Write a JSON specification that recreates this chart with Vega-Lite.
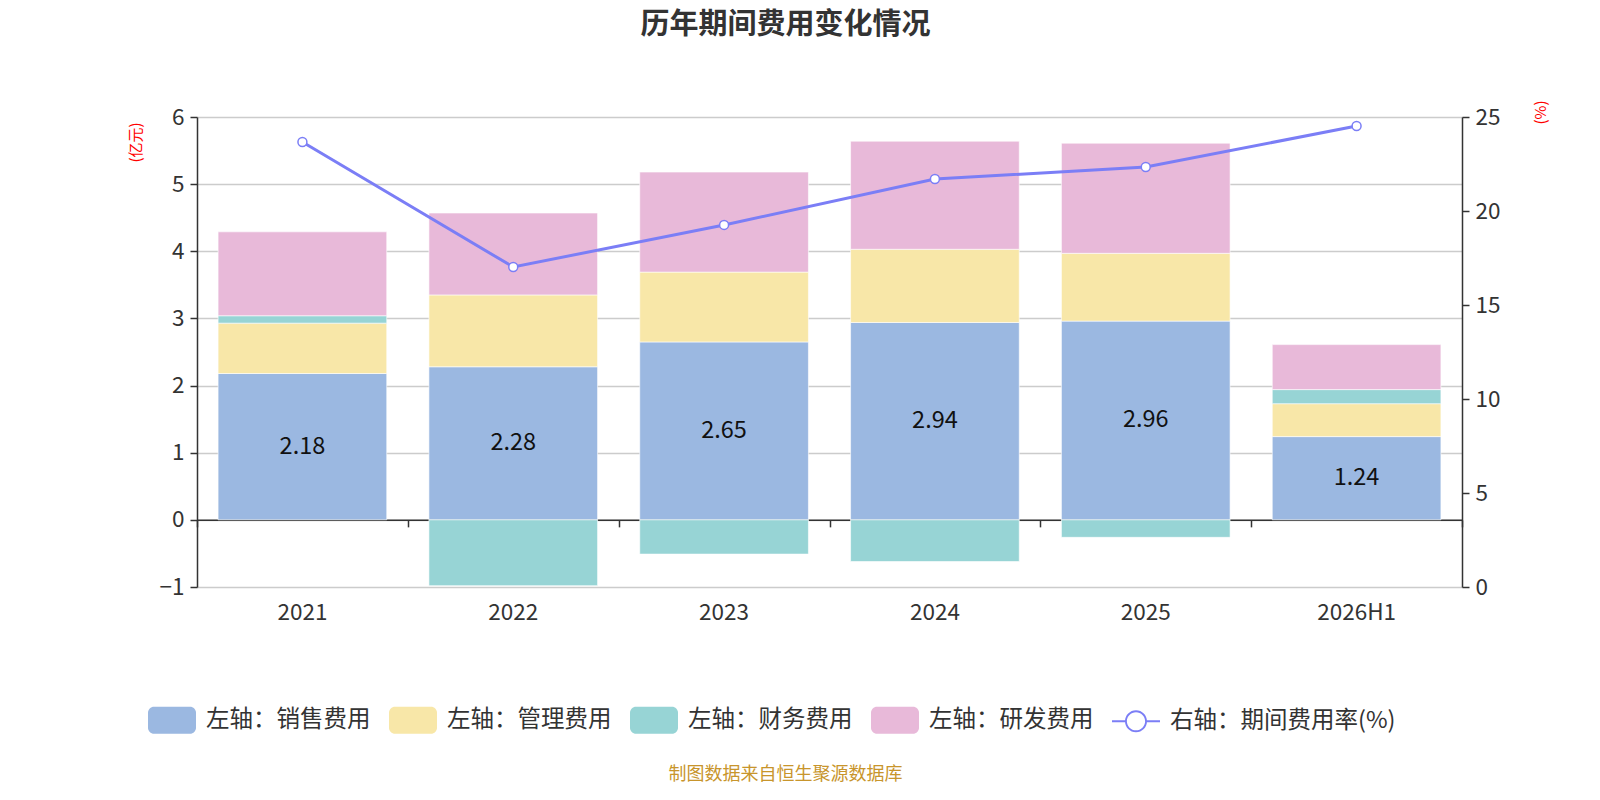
{
  "$schema": "https://vega.github.io/schema/vega-lite/v6.json",
  "width": 1265,
  "height": 470,
  "autosize": {"type": "none"},
  "padding": {"left": 197, "top": 117, "right": 138, "bottom": 213},
  "background": "white",
  "title": {
    "text": "历年期间费用变化情况",
    "fontSize": 29,
    "fontWeight": "bold",
    "color": "#333333",
    "anchor": "middle",
    "dx": -44,
    "offset": 60
  },
  "datasets": {
    "costs": [
      {"year": "2021", "type": "左轴：销售费用", "v": 2.18, "o": 1},
      {"year": "2021", "type": "左轴：管理费用", "v": 0.75, "o": 2},
      {"year": "2021", "type": "左轴：财务费用", "v": 0.11, "o": 3},
      {"year": "2021", "type": "左轴：研发费用", "v": 1.25, "o": 4},
      {"year": "2022", "type": "左轴：销售费用", "v": 2.28, "o": 1},
      {"year": "2022", "type": "左轴：管理费用", "v": 1.07, "o": 2},
      {"year": "2022", "type": "左轴：财务费用", "v": -0.98, "o": 3},
      {"year": "2022", "type": "左轴：研发费用", "v": 1.22, "o": 4},
      {"year": "2023", "type": "左轴：销售费用", "v": 2.65, "o": 1},
      {"year": "2023", "type": "左轴：管理费用", "v": 1.04, "o": 2},
      {"year": "2023", "type": "左轴：财务费用", "v": -0.51, "o": 3},
      {"year": "2023", "type": "左轴：研发费用", "v": 1.49, "o": 4},
      {"year": "2024", "type": "左轴：销售费用", "v": 2.94, "o": 1},
      {"year": "2024", "type": "左轴：管理费用", "v": 1.09, "o": 2},
      {"year": "2024", "type": "左轴：财务费用", "v": -0.62, "o": 3},
      {"year": "2024", "type": "左轴：研发费用", "v": 1.61, "o": 4},
      {"year": "2025", "type": "左轴：销售费用", "v": 2.96, "o": 1},
      {"year": "2025", "type": "左轴：管理费用", "v": 1.01, "o": 2},
      {"year": "2025", "type": "左轴：财务费用", "v": -0.26, "o": 3},
      {"year": "2025", "type": "左轴：研发费用", "v": 1.64, "o": 4},
      {"year": "2026H1", "type": "左轴：销售费用", "v": 1.24, "o": 1},
      {"year": "2026H1", "type": "左轴：管理费用", "v": 0.49, "o": 2},
      {"year": "2026H1", "type": "左轴：财务费用", "v": 0.21, "o": 3},
      {"year": "2026H1", "type": "左轴：研发费用", "v": 0.67, "o": 4}
    ],
    "rate": [
      {"year": "2021", "rate": 23.67},
      {"year": "2022", "rate": 17.02},
      {"year": "2023", "rate": 19.26},
      {"year": "2024", "rate": 21.7},
      {"year": "2025", "rate": 22.34},
      {"year": "2026H1", "rate": 24.52}
    ]
  },
  "encoding": {
    "x": {
      "field": "year",
      "type": "nominal",
      "sort": null,
      "scale": {"paddingInner": 0, "paddingOuter": 0}
    }
  },
  "layer": [
    {
      "data": {"name": "costs"},
      "encoding": {
        "x": {
          "field": "year",
          "type": "nominal",
          "sort": null,
          "axis": {
            "orient": "bottom",
            "domain": false,
            "ticks": false,
            "grid": false,
            "labelAngle": 0,
            "labelFontSize": 22.5,
            "labelColor": "#333333",
            "labelPadding": 14,
            "title": "制图数据来自恒生聚源数据库",
            "titleFontSize": 18,
            "titleFontWeight": "normal",
            "titleColor": "#c8952c",
            "titleX": 588,
            "titleY": 187,
            "titleBaseline": "middle"
          }
        }
      },
      "layer": [
        {
          "mark": {"type": "bar", "width": {"band": 0.8}, "stroke": "white", "strokeWidth": 0.6},
          "encoding": {
            "y": {
              "field": "v",
              "type": "quantitative",
              "stack": "zero",
              "scale": {"domain": [-1, 6], "nice": false, "zero": false},
              "axis": {
                "orient": "left",
                "values": [-1, 0, 1, 2, 3, 4, 5, 6],
                "format": "d",
                "labelFontSize": 22.5,
                "labelColor": "#333333",
                "labelPadding": 6,
                "tickSize": 7,
                "tickColor": "#333333",
                "tickWidth": 1.5,
                "domainColor": "#333333",
                "domainWidth": 1.5,
                "grid": true,
                "gridColor": "#cccccc",
                "gridWidth": 1.5,
                "title": "(亿元)",
                "titleColor": "#ff0000",
                "titleFontSize": 15,
                "titleFontWeight": "normal",
                "titleAngle": -90,
                "titleX": -62,
                "titleY": 25,
                "titleAlign": "center",
                "titleBaseline": "middle"
              }
            },
            "fill": {
              "field": "type",
              "type": "nominal",
              "scale": {
                "domain": ["左轴：销售费用", "左轴：管理费用", "左轴：财务费用", "左轴：研发费用", "右轴：期间费用率(%)"],
                "range": ["#9bb8e1", "#f8e7a8", "#97d4d5", "#e8b9d9", "#7b7ef6"]
              },
              "legend": {
                "orient": "none",
                "direction": "horizontal",
                "legendX": -49,
                "legendY": 579,
                "title": null,
                "padding": 0,
                "labelFontSize": 23.5,
                "labelColor": "#333333",
                "labelOffset": 10,
                "labelLimit": 400,
                "columnPadding": 18,
                "symbolSize": 2304,
                "symbolStrokeWidth": 0,
                "symbolType": {"expr": "datum.value === '右轴：期间费用率(%)' ? 'M-1,-0.042H-0.45V0.042H-1Z M0.45,-0.042H1V0.042H0.45Z M-0.458,0A0.458,0.458 0 1 1 0.458,0A0.458,0.458 0 1 1 -0.458,0Z M-0.38,0A0.38,0.38 0 1 0 0.38,0A0.38,0.38 0 1 0 -0.38,0Z' : 'M-0.75,-0.56H0.75A0.25,0.25 0 0 1 1,-0.31V0.31A0.25,0.25 0 0 1 0.75,0.56H-0.75A0.25,0.25 0 0 1 -1,0.31V-0.31A0.25,0.25 0 0 1 -0.75,-0.56Z'"}
              }
            },
            "order": {"field": "o", "type": "quantitative"}
          }
        },
        {
          "transform": [{"filter": "datum.o === 1"}],
          "mark": {"type": "text", "fontSize": 23.5, "color": "#111111", "baseline": "middle"},
          "encoding": {
            "y": {"field": "v", "type": "quantitative", "stack": "zero", "bandPosition": 0.5},
            "text": {"field": "v", "type": "quantitative", "format": ".2f"}
          }
        }
      ]
    },
    {
      "data": {"name": "rate"},
      "encoding": {
        "x": {
          "field": "year",
          "type": "nominal",
          "sort": null,
          "axis": {
            "orient": "bottom",
            "offset": -67.14,
            "labels": false,
            "title": null,
            "grid": false,
            "domain": true,
            "domainColor": "#333333",
            "domainWidth": 1.5,
            "ticks": true,
            "tickBand": "extent",
            "tickSize": 7,
            "tickColor": "#333333",
            "tickWidth": 1.5
          }
        },
        "y": {
          "field": "rate",
          "type": "quantitative",
          "scale": {"domain": [0, 25], "nice": false},
          "axis": {
            "orient": "right",
            "values": [0, 5, 10, 15, 20, 25],
            "labelFontSize": 22.5,
            "labelColor": "#333333",
            "labelPadding": 6,
            "tickSize": 7,
            "tickColor": "#333333",
            "tickWidth": 1.5,
            "domainColor": "#333333",
            "domainWidth": 1.5,
            "grid": false,
            "title": "(%)",
            "titleColor": "#ff0000",
            "titleFontSize": 15,
            "titleFontWeight": "normal",
            "titleAngle": -90,
            "titleX": 78,
            "titleY": -5,
            "titleAlign": "center",
            "titleBaseline": "middle"
          }
        }
      },
      "layer": [
        {"mark": {"type": "line", "color": "#7b7ef6", "strokeWidth": 3}},
        {"mark": {"type": "point", "filled": true, "fill": "white", "stroke": "#7b7ef6", "strokeWidth": 1.5, "size": 80, "opacity": 1}}
      ]
    }
  ],
  "resolve": {"scale": {"y": "independent"}, "axis": {"x": "independent"}},
  "config": {
    "font": "Noto Sans CJK SC",
    "view": {"stroke": null}
  }
}
